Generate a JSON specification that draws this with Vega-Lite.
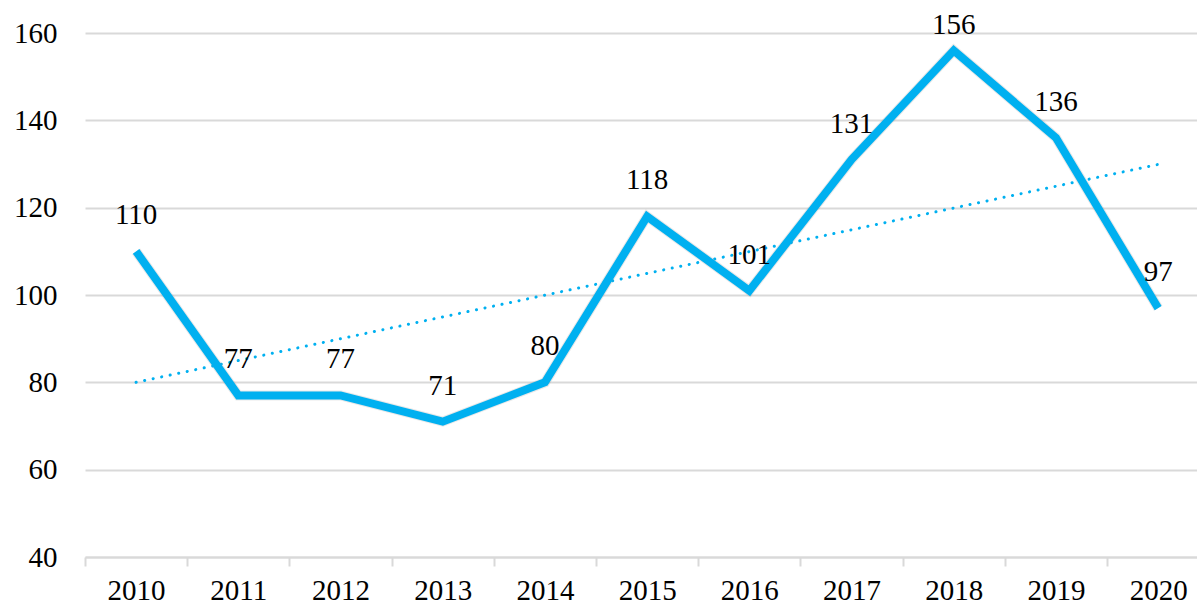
{
  "$schema": "https://vega.github.io/schema/vega-lite/v6.json",
  "autosize": "none",
  "width": 1112,
  "height": 524,
  "padding": {"left": 85, "top": 33, "right": 0, "bottom": 47},
  "background": "white",
  "config": {"view": {"stroke": null}, "font": "'Liberation Serif'"},
  "datasets": {
    "series": [
      {"year": 2010, "value": 110},
      {"year": 2011, "value": 77},
      {"year": 2012, "value": 77},
      {"year": 2013, "value": 71},
      {"year": 2014, "value": 80},
      {"year": 2015, "value": 118},
      {"year": 2016, "value": 101},
      {"year": 2017, "value": 131},
      {"year": 2018, "value": 156},
      {"year": 2019, "value": 136},
      {"year": 2020, "value": 97}
    ],
    "trend": [
      {"year": 2010, "value": 80},
      {"year": 2020, "value": 129.9}
    ]
  },
  "layer": [
    {
      "data": {"name": "trend"},
      "mark": {"type": "line", "color": "#00b0f0", "strokeWidth": 3, "strokeCap": "round", "strokeDash": [0.1, 8.6]},
      "encoding": {
        "x": {"field": "year", "type": "quantitative", "scale": {"domain": [2009.5, 2020.38], "nice": false, "zero": false},
          "axis": {"values": [2010, 2011, 2012, 2013, 2014, 2015, 2016, 2017, 2018, 2019, 2020], "format": "d", "title": null,
            "grid": false, "domainColor": "#d9d9d9", "domainWidth": 2, "tickColor": "#d9d9d9", "tickWidth": 2, "tickSize": 9,
            "tickOffset": -51.1, "labelOffset": 51.1, "labelFontSize": 29, "labelColor": "black", "labelFont": "'Liberation Serif'",
            "labelPadding": 10, "labelFlush": false, "labelOverlap": false}},
        "y": {"field": "value", "type": "quantitative", "scale": {"domain": [40, 160], "nice": false, "zero": false},
          "axis": {"values": [40, 60, 80, 100, 120, 140, 160], "title": null, "domain": false, "ticks": false,
            "gridColor": "#d9d9d9", "gridWidth": 2, "labelFontSize": 29, "labelColor": "black", "labelFont": "'Liberation Serif'",
            "labelPadding": 28, "labelFlush": false}}
      }
    },
    {
      "data": {"name": "series"},
      "mark": {"type": "line", "color": "#8a8a8a", "strokeWidth": 10, "opacity": 0.2, "strokeJoin": "miter"},
      "encoding": {
        "x": {"field": "year", "type": "quantitative"},
        "y": {"field": "value", "type": "quantitative"}
      }
    },
    {
      "data": {"name": "series"},
      "mark": {"type": "line", "color": "#00b0f0", "strokeWidth": 8, "strokeJoin": "miter"},
      "encoding": {
        "x": {"field": "year", "type": "quantitative"},
        "y": {"field": "value", "type": "quantitative"}
      }
    },
    {
      "data": {"name": "series"},
      "transform": [{"filter": "datum.value < 150"}],
      "mark": {"type": "text", "fontSize": 29, "font": "'Liberation Serif'", "color": "black", "dy": -36, "baseline": "middle"},
      "encoding": {
        "x": {"field": "year", "type": "quantitative"},
        "y": {"field": "value", "type": "quantitative"},
        "text": {"field": "value", "type": "quantitative"}
      }
    },
    {
      "data": {"name": "series"},
      "transform": [{"filter": "datum.value >= 150"}],
      "mark": {"type": "text", "fontSize": 29, "font": "'Liberation Serif'", "color": "black", "dy": -25, "baseline": "middle"},
      "encoding": {
        "x": {"field": "year", "type": "quantitative"},
        "y": {"field": "value", "type": "quantitative"},
        "text": {"field": "value", "type": "quantitative"}
      }
    }
  ]
}
